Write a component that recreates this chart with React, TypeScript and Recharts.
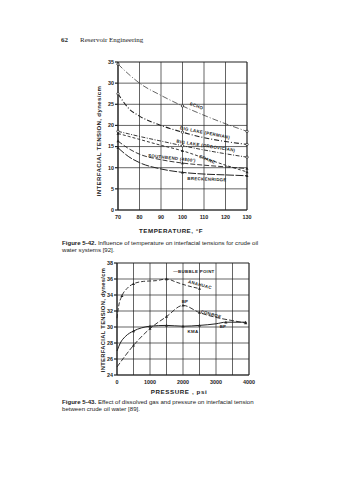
import { LineChart, Line, XAxis, YAxis, ReferenceLine, ReferenceDot } from "recharts";

// Figure 5-42: IFT vs temperature
const temps = [70, 75, 80, 90, 100, 110, 120, 130];
const echo = [34.5, 32.1, 30.0, 27.1, 24.6, 22.4, 20.4, 18.6];
const bigLakePermian = [27.5, 24.0, 22.2, 20.0, 18.4, 17.1, 16.2, 15.5];
const bigLakeOrdovician = [18.6, 18.0, 17.4, 16.3, 15.2, 14.2, 13.3, 12.5];
const crane = [18.1, 17.4, 16.7, 15.3, 14.0, 12.3, 10.6, 9.0];
const southbend = [16.3, 14.5, 13.2, 11.9, 11.1, 10.6, 10.2, 9.8];
const breckenridge = [14.7, 12.6, 11.2, 9.7, 8.9, 8.5, 8.3, 8.1];
const tempTicks = [70, 80, 90, 100, 110, 120, 130];
const iftTicks1 = [0, 5, 10, 15, 20, 25, 30, 35];
const tempMarks = [70, 100, 130];
const tempLabels = [
  { x: 106.5, y: 24.6, text: "ECHO", angle: 21 },
  { x: 110.5, y: 18.3, text: "BIG LAKE (PERMIAN)", angle: 11 },
  { x: 110.9, y: 15.2, text: "BIG LAKE (ORDOVICIAN)", angle: 9 },
  { x: 111.5, y: 12.0, text: "CRANE", angle: 22 },
  { x: 95.1, y: 12.3, text: "SOUTHBEND (4800')", angle: 6 },
  { x: 111.4, y: 7.3, text: "BRECKENRIDGE", angle: 2 },
];

// Figure 5-43: IFT vs pressure
const anahuacP = [0, 50, 150, 300, 500, 800, 1200, 1500, 1800, 2100, 2500];
const anahuacIft = [31.1, 32.6, 33.9, 34.8, 35.4, 35.7, 35.8, 36.0, 35.6, 35.2, 34.8];
const conroeP = [0, 500, 1000, 1500, 2000, 2500, 3000, 3500, 3900];
const conroeIft = [25.0, 27.7, 29.8, 31.3, 32.7, 31.8, 31.2, 30.8, 30.5];
const kmaP = [0, 100, 250, 500, 750, 1000, 1500, 2000, 2500, 3000, 3300, 3900];
const kmaIft = [27.0, 28.0, 28.8, 29.5, 29.9, 30.1, 30.2, 30.1, 30.2, 30.4, 30.6, 30.6];
const pressTicks = [0, 500, 1000, 1500, 2000, 2500, 3000, 3500, 4000];
const iftTicks2 = [24, 26, 28, 30, 32, 34, 36, 38];
const pressMarks = [150, 500, 1000, 1500, 2000, 2500, 3300, 3900];
const pressLabels = [
  { x: 2333, y: 37.0, text: "—BUBBLE POINT", angle: 0 },
  { x: 2515, y: 35.3, text: "ANAHUAC", angle: 15 },
  { x: 2060, y: 33.2, text: "BP", angle: 0 },
  { x: 2848, y: 31.6, text: "CONROE", angle: 15 },
  { x: 2303, y: 29.5, text: "KMA", angle: 0 },
  { x: 3212, y: 30.1, text: "BP", angle: 0 },
];

const tempRows = temps.map((t, i) => ({
  t,
  echo: echo[i],
  permian: bigLakePermian[i],
  ordovician: bigLakeOrdovician[i],
  crane: crane[i],
  southbend: southbend[i],
  breckenridge: breckenridge[i],
}));
const anahuac = anahuacP.map((p, i) => ({ p, v: anahuacIft[i] }));
const conroe = conroeP.map((p, i) => ({ p, v: conroeIft[i] }));
const kma = kmaP.map((p, i) => ({ p, v: kmaIft[i] }));

const INK = "#222";
const sans = "'Liberation Sans', Arial, sans-serif";
const tickStyle = { fontSize: 5.4, fill: INK, fontFamily: sans, fontWeight: 700 };

const markDot = (marks: number[], key: string, shape: "circle" | "tri") => (props: any) => {
  const { cx, cy, payload, index } = props;
  if (!marks.includes(payload[key])) return <g key={index} />;
  if (shape === "tri")
    return (
      <path key={index} d={`M${cx - 1.5},${cy + 1.2}L${cx + 1.5},${cy + 1.2}L${cx},${cy - 1.5}Z`} fill={INK} />
    );
  return <circle key={index} cx={cx} cy={cy} r={1.2} fill="#fff" stroke={INK} strokeWidth={0.8} />;
};

const lineLabel = (text: string, angle: number) => ({
  value: text,
  position: "center" as const,
  angle,
  fontSize: 4.4,
  fontWeight: 700,
  fill: INK,
  fontFamily: sans,
  letterSpacing: 0.3,
});

const gridLine = { stroke: INK, strokeWidth: 0.7, ifOverflow: "visible" as const };

export default function App() {
  return (
    <div
      style={{
        position: "absolute",
        top: 0,
        left: 0,
        width: 342,
        height: 480,
        background: "#fff",
        fontFamily: sans,
        color: INK,
      }}
    >
      <div style={{ position: "absolute", left: 61, top: 36, fontFamily: "'Liberation Serif', serif", fontSize: 7, fontWeight: 700 }}>
        62
      </div>
      <div style={{ position: "absolute", left: 80, top: 36, fontFamily: "'Liberation Serif', serif", fontSize: 7 }}>
        Reservoir Engineering
      </div>

      <div style={{ position: "absolute", left: 0, top: 0 }}>
        <LineChart width={342} height={228} data={tempRows} margin={{ top: 62, right: 95, left: 98, bottom: 6 }}>
          <XAxis
            dataKey="t"
            type="number"
            domain={[70, 130]}
            ticks={tempTicks}
            tick={tickStyle}
            tickSize={0}
            tickMargin={5}
            height={12}
            stroke={INK}
            strokeWidth={1.2}
          />
          <YAxis
            type="number"
            domain={[0, 35]}
            ticks={iftTicks1}
            tick={tickStyle}
            tickSize={3}
            tickMargin={1}
            width={20}
            stroke={INK}
            strokeWidth={1.2}
          />
          {tempTicks.map((v) => (
            <ReferenceLine key={"v" + v} x={v} {...gridLine} strokeWidth={v === 130 ? 1.2 : 0.7} />
          ))}
          {iftTicks1.map((v) => (
            <ReferenceLine key={"h" + v} y={v} {...gridLine} strokeWidth={v === 35 ? 1.2 : 0.7} />
          ))}
          <Line dataKey="echo" type="monotone" stroke={INK} strokeWidth={0.7} strokeDasharray="6 2 1 2" dot={markDot(tempMarks, "t", "circle")} isAnimationActive={false} />
          <Line dataKey="permian" type="monotone" stroke={INK} strokeWidth={1.1} strokeDasharray="5 2 1 2" dot={markDot(tempMarks, "t", "circle")} isAnimationActive={false} />
          <Line dataKey="ordovician" type="monotone" stroke={INK} strokeWidth={0.9} strokeDasharray="4 1.5 1 1.5" dot={markDot(tempMarks, "t", "circle")} isAnimationActive={false} />
          <Line dataKey="crane" type="monotone" stroke={INK} strokeWidth={0.9} strokeDasharray="3 2" dot={markDot(tempMarks, "t", "tri")} isAnimationActive={false} />
          <Line dataKey="southbend" type="monotone" stroke={INK} strokeWidth={0.9} strokeDasharray="5 2" dot={markDot(tempMarks, "t", "tri")} isAnimationActive={false} />
          <Line dataKey="breckenridge" type="monotone" stroke={INK} strokeWidth={1} strokeDasharray="8 1.5" dot={markDot(tempMarks, "t", "tri")} isAnimationActive={false} />
          {tempLabels.map((l) => (
            <ReferenceDot key={l.text} x={l.x} y={l.y} r={0} stroke="none" fill="none" label={lineLabel(l.text, l.angle)} />
          ))}
        </LineChart>
      </div>

      <div style={{ position: "absolute", left: 99, top: 141, transform: "translate(-50%, -50%) rotate(-90deg)", whiteSpace: "nowrap", fontSize: 6, fontWeight: 700, letterSpacing: 0.4 }}>
        INTERFACIAL TENSION, dynes/cm
      </div>
      <div style={{ position: "absolute", left: 171, top: 230, transform: "translate(-50%, -50%)", whiteSpace: "nowrap", fontSize: 6.2, fontWeight: 700, letterSpacing: 0.5 }}>
        TEMPERATURE, °F
      </div>
      <div style={{ position: "absolute", left: 62, top: 239, width: 230, fontSize: 6.1, lineHeight: "7px" }}>
        <b>Figure 5-42.</b> Influence of temperature on interfacial tensions for crude oil
        <br />
        water systems [92].
      </div>

      <div style={{ position: "absolute", left: 0, top: 250 }}>
        <LineChart width={342} height={150} margin={{ top: 13, right: 93, left: 97, bottom: 13 }}>
          <XAxis
            dataKey="p"
            type="number"
            domain={[0, 4000]}
            ticks={pressTicks}
            tickFormatter={(v: number) => (v % 1000 === 0 ? String(v) : "")}
            tick={tickStyle}
            tickSize={0}
            tickMargin={5}
            height={12}
            stroke={INK}
            strokeWidth={1.2}
            allowDuplicatedCategory={false}
          />
          <YAxis
            type="number"
            domain={[24, 38]}
            ticks={iftTicks2}
            tick={tickStyle}
            tickSize={3}
            tickMargin={1}
            width={20}
            stroke={INK}
            strokeWidth={1.2}
          />
          {pressTicks.map((v) => (
            <ReferenceLine key={"v" + v} x={v} {...gridLine} strokeWidth={v === 4000 ? 1.2 : 0.7} />
          ))}
          {iftTicks2.map((v) => (
            <ReferenceLine key={"h" + v} y={v} {...gridLine} strokeWidth={v === 38 ? 1.2 : 0.7} />
          ))}
          <Line data={anahuac} dataKey="v" type="monotone" stroke={INK} strokeWidth={0.9} strokeDasharray="4 2" dot={markDot(pressMarks, "p", "tri")} isAnimationActive={false} />
          <Line data={conroe} dataKey="v" type="monotone" stroke={INK} strokeWidth={0.9} strokeDasharray="5 2" dot={markDot(pressMarks, "p", "tri")} isAnimationActive={false} />
          <Line data={kma} dataKey="v" type="monotone" stroke={INK} strokeWidth={1} dot={markDot(pressMarks, "p", "tri")} isAnimationActive={false} />
          {pressLabels.map((l, i) => (
            <ReferenceDot key={i} x={l.x} y={l.y} r={0} stroke="none" fill="none" label={lineLabel(l.text, l.angle)} />
          ))}
        </LineChart>
      </div>

      <div style={{ position: "absolute", left: 103, top: 320, transform: "translate(-50%, -50%) rotate(-90deg)", whiteSpace: "nowrap", fontSize: 5.8, fontWeight: 700, letterSpacing: 0.3 }}>
        INTERFACIAL TENSION, dynes/cm
      </div>
      <div style={{ position: "absolute", left: 179, top: 391, transform: "translate(-50%, -50%)", whiteSpace: "nowrap", fontSize: 6.2, fontWeight: 700, letterSpacing: 0.6 }}>
        PRESSURE , psi
      </div>
      <div style={{ position: "absolute", left: 62, top: 399, width: 230, fontSize: 6.1, lineHeight: "6.5px" }}>
        <b>Figure 5-43.</b> Effect of dissolved gas and pressure on interfacial tension
        <br />
        between crude oil water [89].
      </div>
    </div>
  );
}
